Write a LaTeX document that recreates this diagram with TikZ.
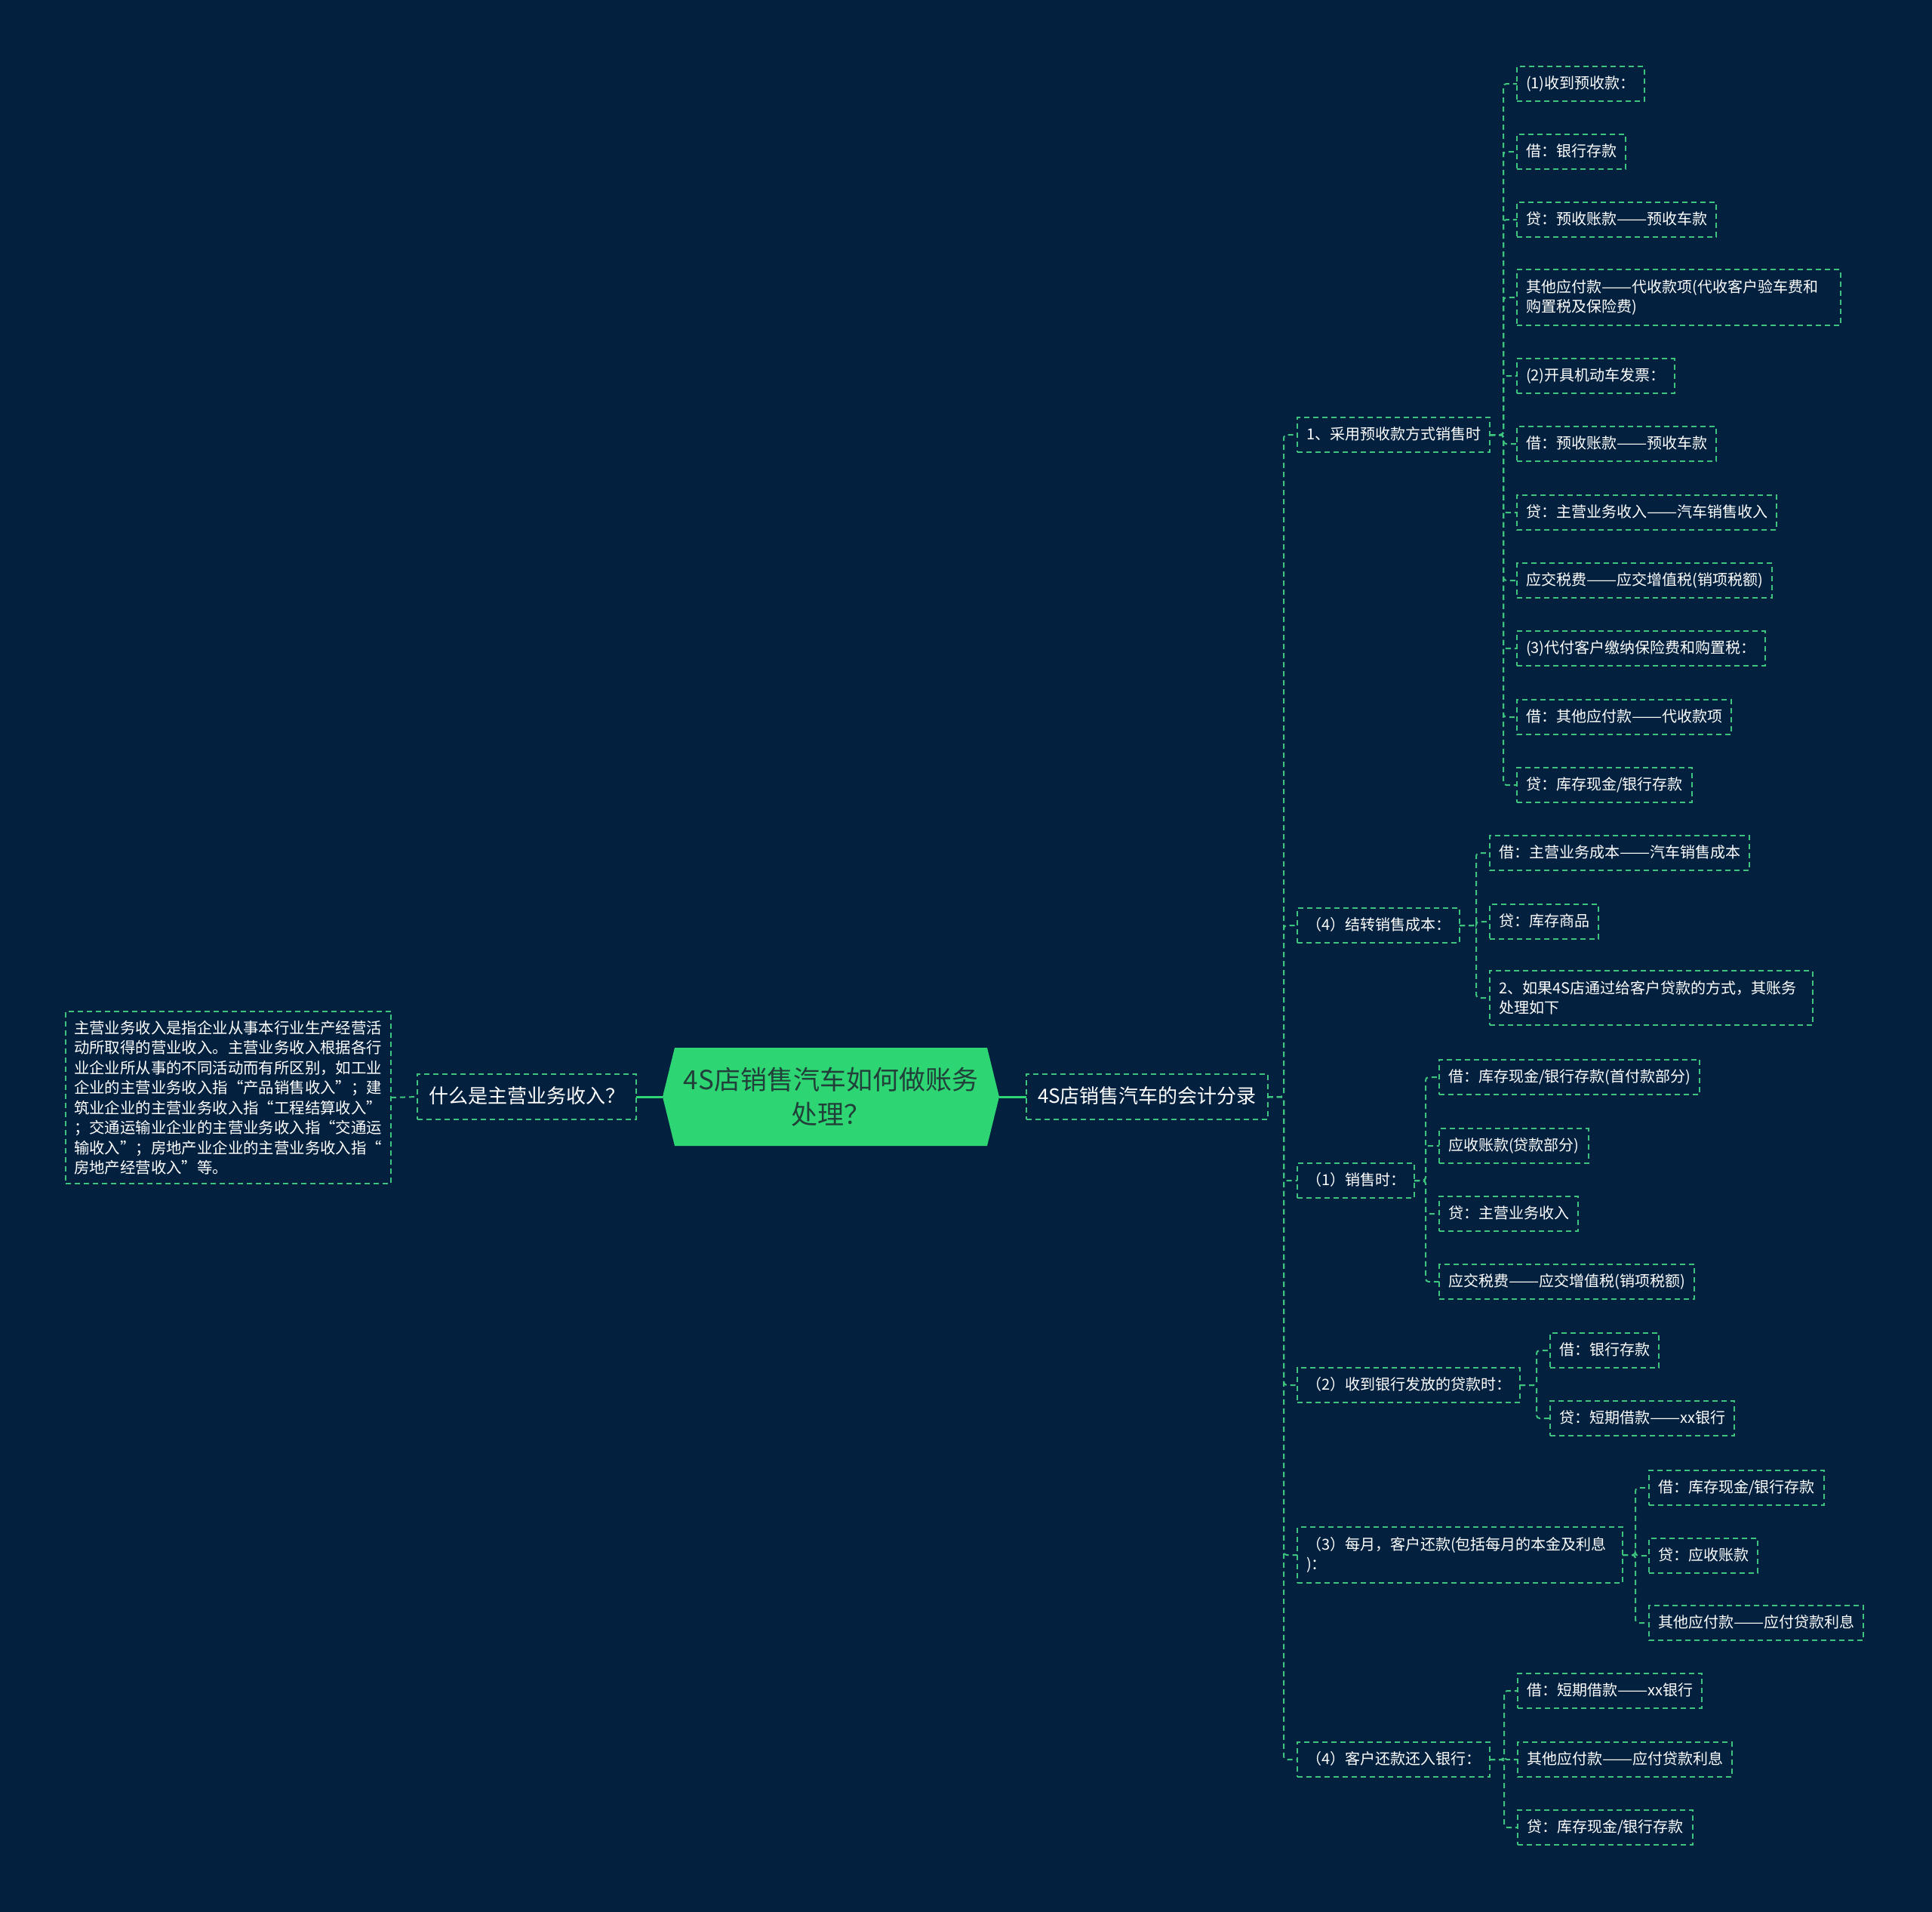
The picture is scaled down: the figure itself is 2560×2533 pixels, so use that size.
\documentclass[tikz,border=0pt]{standalone}
\usepackage{fontspec}
\setmainfont{Noto Sans CJK SC}
\usetikzlibrary{backgrounds}
\definecolor{bg}{HTML}{03213F}
\definecolor{lineg}{HTML}{3DC47E}
\definecolor{rootg}{HTML}{2ED573}
\definecolor{roottext}{HTML}{21403A}
\newcommand{\ddash}{\scalebox{1.2}[1]{——}}
\tikzset{
  bx/.style={draw=lineg, dash pattern=on 7pt off 5pt, line width=2pt, text=white,
    inner xsep=12pt, inner ysep=13pt, font=\fontsize{20}{26.5}\selectfont,
    align=left, anchor=west, outer sep=0pt},
  bone/.style={bx, text height=16pt, text depth=4pt},
  lvlone/.style={bx, font=\fontsize{26}{32}\selectfont, inner xsep=15pt,
    inner ysep=17pt, text height=21pt, text depth=5pt},
  conn/.style={draw=lineg, dash pattern=on 7pt off 5pt, line width=2pt, rounded corners=4pt},
  solidconn/.style={draw=rootg, line width=3pt},
  rootnode/.style={inner sep=0pt, outer sep=0pt, minimum width=446pt, minimum height=130pt,
    text=roottext, font=\fontsize{35}{46}\selectfont, align=center}
}
\begin{document}
\begin{tikzpicture}[x=1pt,y=-1pt]
\useasboundingbox (0,0) rectangle (2560,2533);
% root and first level
\node[rootnode] (root) at (1101,1453) {4S店销售汽车如何做账务\\处理？};
\node[lvlone] (q) at (553,1453) {什么是主营业务收入？};
\node[bx, inner xsep=11pt, inner ysep=12pt, font=\fontsize{20.4}{26.5}\selectfont, text width=409pt] (def) at (87,1454) {主营业务收入是指企业从事本行业生产经营活\\动所取得的营业收入。主营业务收入根据各行\\业企业所从事的不同活动而有所区别，如工业\\企业的主营业务收入指“产品销售收入”；建\\筑业企业的主营业务收入指“工程结算收入”\\；交通运输业企业的主营业务收入指“交通运\\输收入”；房地产业企业的主营业务收入指“\\房地产经营收入”等。};
\node[lvlone] (r) at (1360,1453) {4S店销售汽车的会计分录};
% second level
\node[bone] (n1) at (1719,576) {1、采用预收款方式销售时};
\node[bone] (n2) at (1719,1226) {（4）结转销售成本：};
\node[bone] (n3) at (1719,1564) {（1）销售时：};
\node[bone] (n4) at (1719,1835) {（2）收到银行发放的贷款时：};
\node[bx, text width=407pt] (n5) at (1719,2060) {（3）每月，客户还款(包括每月的本金及利息\\)：};
\node[bone] (n6) at (1719,2331) {（4）客户还款还入银行：};
% children of n1
\node[bone] (a1) at (2010,111) {(1)收到预收款：};
\node[bone] (a2) at (2010,201) {借：银行存款};
\node[bone] (a3) at (2010,291) {贷：预收账款\ddash 预收车款};
\node[bx, text width=405pt] (a4) at (2010,394) {其他应付款\ddash 代收款项(代收客户验车费和\\购置税及保险费)};
\node[bone] (a5) at (2010,498) {(2)开具机动车发票：};
\node[bone] (a6) at (2010,588) {借：预收账款\ddash 预收车款};
\node[bone] (a7) at (2010,679) {贷：主营业务收入\ddash 汽车销售收入};
\node[bone] (a8) at (2010,769) {应交税费\ddash 应交增值税(销项税额)};
\node[bone] (a9) at (2010,859) {(3)代付客户缴纳保险费和购置税：};
\node[bone] (a10) at (2010,950) {借：其他应付款\ddash 代收款项};
\node[bone] (a11) at (2010,1040) {贷：库存现金/银行存款};
% children of n2
\node[bone] (b1) at (1974,1130) {借：主营业务成本\ddash 汽车销售成本};
\node[bone] (b2) at (1974,1221) {贷：库存商品};
\node[bx, text width=404pt] (b3) at (1974,1322) {2、如果4S店通过给客户贷款的方式，其账务\\处理如下};
% children of n3
\node[bone] (c1) at (1907,1427) {借：库存现金/银行存款(首付款部分)};
\node[bone] (c2) at (1907,1518) {应收账款(贷款部分)};
\node[bone] (c3) at (1907,1608) {贷：主营业务收入};
\node[bone] (c4) at (1907,1698) {应交税费\ddash 应交增值税(销项税额)};
% children of n4
\node[bone] (d1) at (2054,1789) {借：银行存款};
\node[bone] (d2) at (2054,1879) {贷：短期借款\ddash xx银行};
% children of n5
\node[bone] (e1) at (2185,1971) {借：库存现金/银行存款};
\node[bone] (e2) at (2185,2061) {贷：应收账款};
\node[bone] (e3) at (2185,2150) {其他应付款\ddash 应付贷款利息};
% children of n6
\node[bone] (f1) at (2011,2240) {借：短期借款\ddash xx银行};
\node[bone] (f2) at (2011,2331) {其他应付款\ddash 应付贷款利息};
\node[bone] (f3) at (2011,2421) {贷：库存现金/银行存款};
% background and hexagon
\begin{scope}[on background layer]
\fill[bg] (0,0) rectangle (2560,2533);
\fill[rootg] ([xshift=16pt]root.north west) -- ([xshift=-16pt]root.north east) -- (root.east)
  -- ([xshift=-16pt]root.south east) -- ([xshift=16pt]root.south west) -- (root.west) -- cycle;
\end{scope}
% connectors
\draw[solidconn] (q.east) -- (root.west);
\draw[solidconn] (root.east) -- (r.west);
\draw[conn] (def.east) -- (q.west);
\foreach \c in {n1,n2,n3,n4,n5,n6}
  \draw[conn] (r.east) -| ([xshift=-18pt]\c.west) -- (\c.west);
\foreach \c in {a1,a2,a3,a4,a5,a6,a7,a8,a9,a10,a11}
  \draw[conn] (n1.east) -| ([xshift=-18pt]\c.west) -- (\c.west);
\foreach \c in {b1,b2,b3}
  \draw[conn] (n2.east) -| ([xshift=-18pt]\c.west) -- (\c.west);
\foreach \c in {c1,c2,c3,c4}
  \draw[conn] (n3.east) -| ([xshift=-18pt]\c.west) -- (\c.west);
\foreach \c in {d1,d2}
  \draw[conn] (n4.east) -| ([xshift=-18pt]\c.west) -- (\c.west);
\foreach \c in {e1,e2,e3}
  \draw[conn] (n5.east) -| ([xshift=-18pt]\c.west) -- (\c.west);
\foreach \c in {f1,f2,f3}
  \draw[conn] (n6.east) -| ([xshift=-18pt]\c.west) -- (\c.west);
\end{tikzpicture}
\end{document}
